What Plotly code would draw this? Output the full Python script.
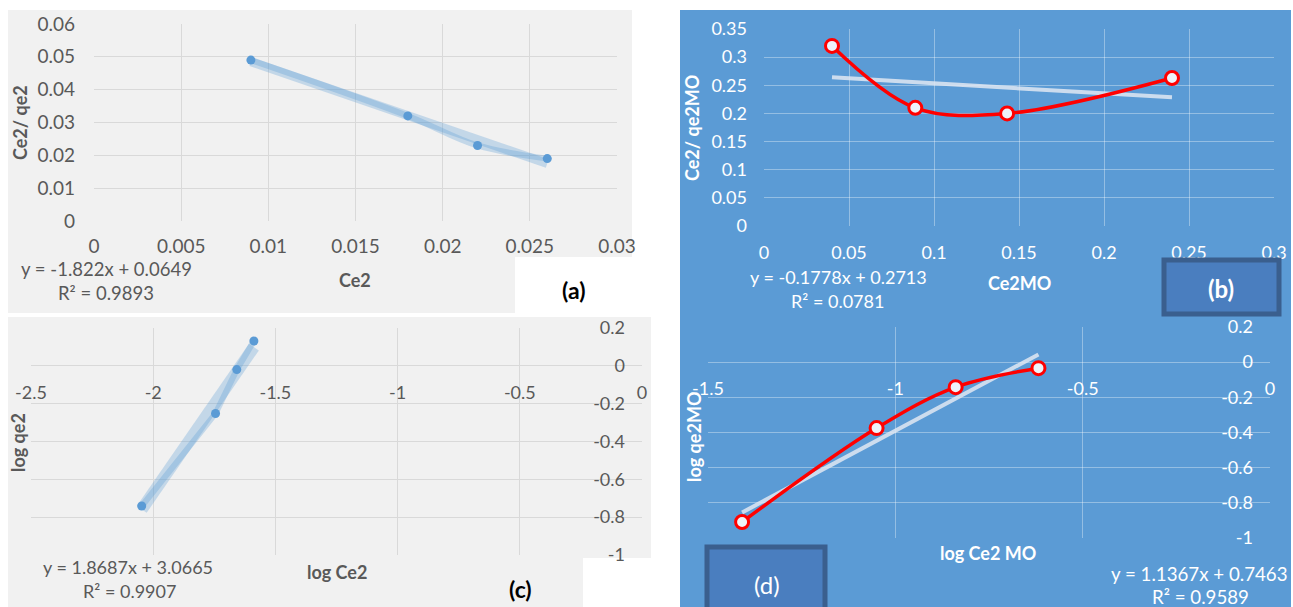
import plotly.graph_objects as go

W, H = 1293, 607

# ---------------- data ----------------
ce2 = [0.009, 0.018, 0.022, 0.026]
ce2_qe2 = [0.049, 0.032, 0.023, 0.019]

ce2mo = [0.040, 0.089, 0.143, 0.240]
ce2_qe2mo = [0.320, 0.210, 0.200, 0.263]

log_ce2 = [-2.047, -1.745, -1.658, -1.588]
log_qe2 = [-0.741, -0.252, -0.020, 0.131]

log_ce2mo = [-1.409, -1.050, -0.839, -0.618]
log_qe2mo = [-0.909, -0.375, -0.142, -0.034]

trend_a = dict(x=[0.009, 0.026], y=[0.0485, 0.0175])
trend_b = dict(x=[0.040, 0.240], y=[0.2642, 0.2286])
trend_c = dict(x=[-2.047, -1.588], y=[-0.759, 0.099])
trend_d = dict(x=[-1.409, -0.618], y=[-0.855, 0.044])

eq_a = ["y = -1.822x + 0.0649", "R² = 0.9893"]
eq_b = ["y = -0.1778x + 0.2713", "R² = 0.0781"]
eq_c = ["y = 1.8687x + 3.0665", "R² = 0.9907"]
eq_d = ["y = 1.1367x + 0.7463", "R² = 0.9589"]

# tick labels (Excel style, plain hyphen minus)
xt_a = [0, 0.005, 0.01, 0.015, 0.02, 0.025, 0.03]
yt_a = [0, 0.01, 0.02, 0.03, 0.04, 0.05, 0.06]
xt_b = [0, 0.05, 0.1, 0.15, 0.2, 0.25, 0.3]
yt_b = [0, 0.05, 0.1, 0.15, 0.2, 0.25, 0.3, 0.35]
xt_c = [-2.5, -2, -1.5, -1, -0.5, 0]
xl_c = ["-2.5", "-2", "-1.5", "-1", "-0.5", "0"]
xt_d = [-1.5, -1, -0.5, 0]
xl_d = ["-1.5", "-1", "-0.5", "0"]
yt_cd = [-1, -0.8, -0.6, -0.4, -0.2, 0, 0.2]
yl_cd = ["-1", "-0.8", "-0.6", "-0.4", "-0.2", "0", "0.2"]

FONT = "Lato"
GRAY = "#595959"
BLUE_BG = "#5b9bd5"
PANEL = "#f1f1f1"
GRID_L = "#d9d9d9"
GRID_B = "rgba(255,255,255,0.35)"
MARK = "#5b9bd5"
BAND = "rgba(91,155,213,0.30)"
RED = "#ff0000"
TREND_B = "rgba(225,232,242,0.85)"


def px(x):
    return x / W


def py(y):
    return 1 - y / H


fig = go.Figure()

# ---- panel (a)
fig.add_trace(go.Scatter(x=ce2, y=ce2_qe2, mode="lines", line=dict(color=BAND, width=6, shape="spline"),
                         xaxis="x", yaxis="y", hoverinfo="skip"))
fig.add_trace(go.Scatter(x=trend_a["x"], y=trend_a["y"], mode="lines", line=dict(color=BAND, width=9),
                         xaxis="x", yaxis="y", hoverinfo="skip"))
fig.add_trace(go.Scatter(x=ce2, y=ce2_qe2, mode="markers", marker=dict(color=MARK, size=9),
                         xaxis="x", yaxis="y"))

# ---- panel (b)
fig.add_trace(go.Scatter(x=trend_b["x"], y=trend_b["y"], mode="lines", line=dict(color=TREND_B, width=4),
                         xaxis="x2", yaxis="y2", hoverinfo="skip"))
fig.add_trace(go.Scatter(x=ce2mo, y=ce2_qe2mo, mode="lines+markers",
                         line=dict(color=RED, width=3.5, shape="spline", smoothing=1.0),
                         marker=dict(symbol="circle", size=13, color="#eef3fa", line=dict(color=RED, width=3)),
                         xaxis="x2", yaxis="y2"))

# ---- panel (c)
fig.add_trace(go.Scatter(x=log_ce2, y=log_qe2, mode="lines", line=dict(color=BAND, width=6),
                         xaxis="x3", yaxis="y3", hoverinfo="skip"))
fig.add_trace(go.Scatter(x=trend_c["x"], y=trend_c["y"], mode="lines", line=dict(color=BAND, width=12),
                         xaxis="x3", yaxis="y3", hoverinfo="skip"))
fig.add_trace(go.Scatter(x=log_ce2, y=log_qe2, mode="markers", marker=dict(color=MARK, size=9),
                         xaxis="x3", yaxis="y3"))

# ---- panel (d)
fig.add_trace(go.Scatter(x=trend_d["x"], y=trend_d["y"], mode="lines", line=dict(color=TREND_B, width=4),
                         xaxis="x4", yaxis="y4", hoverinfo="skip"))
fig.add_trace(go.Scatter(x=log_ce2mo, y=log_qe2mo, mode="lines+markers",
                         line=dict(color=RED, width=3.5, shape="spline", smoothing=1.0),
                         marker=dict(symbol="circle", size=13, color="#eef3fa", line=dict(color=RED, width=3)),
                         xaxis="x4", yaxis="y4"))

# ---------------- axes ----------------
dom = {
    "a": dict(x=[px(94), px(617)], y=[py(221), py(24)]),
    "b": dict(x=[px(764), px(1274)], y=[py(226), py(29)]),
    "c": dict(x=[px(31), px(642)], y=[py(555), py(328)]),
    "d": dict(x=[px(708), px(1270)], y=[py(538), py(327)]),
}


def zero_pos(d, lo, hi):
    y0, y1 = d["y"]
    return y0 + (0 - lo) / (hi - lo) * (y1 - y0)


def tf(color, size):
    return dict(family=FONT, size=size, color=color)


common = dict(showline=False, zeroline=False, ticks="", fixedrange=True, automargin=False,
              ticklabeloverflow="allow")

fig.update_layout(
    xaxis=dict(domain=dom["a"]["x"], anchor="y", range=[0, 0.03], tickvals=xt_a, tickformat="~g",
               gridcolor=GRID_L, tickfont=tf(GRAY, 19), ticklabelstandoff=12, **common),
    yaxis=dict(domain=dom["a"]["y"], anchor="x", range=[0, 0.06], tickvals=yt_a, tickformat="~g",
               gridcolor=GRID_L, tickfont=tf(GRAY, 19), ticklabelstandoff=18, **common),
    xaxis2=dict(domain=dom["b"]["x"], anchor="y2", range=[0, 0.3], tickvals=xt_b, tickformat="~g",
                gridcolor=GRID_B, tickfont=tf("white", 18), ticklabelstandoff=14, **common),
    yaxis2=dict(domain=dom["b"]["y"], anchor="x2", range=[0, 0.35], tickvals=yt_b, tickformat="~g",
                gridcolor=GRID_B, tickfont=tf("white", 18), ticklabelstandoff=16, **common),
    xaxis3=dict(domain=dom["c"]["x"], anchor="free", position=zero_pos(dom["c"], -1, 0.2),
                range=[-2.5, 0], tickvals=xt_c, ticktext=xl_c,
                gridcolor=GRID_L, tickfont=tf(GRAY, 18), ticklabelstandoff=14, **common),
    yaxis3=dict(domain=dom["c"]["y"], anchor="free", position=dom["c"]["x"][1], side="left",
                range=[-1, 0.2], tickvals=yt_cd, ticktext=yl_cd,
                gridcolor=GRID_L, tickfont=tf(GRAY, 18), ticklabelstandoff=17, **common),
    xaxis4=dict(domain=dom["d"]["x"], anchor="free", position=zero_pos(dom["d"], -1, 0.2),
                range=[-1.5, 0], tickvals=xt_d, ticktext=xl_d,
                gridcolor=GRID_B, tickfont=tf("white", 18), ticklabelstandoff=14, **common),
    yaxis4=dict(domain=dom["d"]["y"], anchor="free", position=dom["d"]["x"][1], side="left",
                range=[-1, 0.2], tickvals=yt_cd, ticktext=yl_cd,
                gridcolor=GRID_B, tickfont=tf("white", 18), ticklabelstandoff=17, **common),
)

# ---------------- backgrounds ----------------
shapes = [
    dict(type="rect", xref="paper", yref="paper", x0=px(8), x1=px(632), y0=py(313), y1=py(10),
         fillcolor=PANEL, line=dict(width=0), layer="below"),
    dict(type="rect", xref="paper", yref="paper", x0=px(515), x1=px(632), y0=py(313), y1=py(257),
         fillcolor="white", line=dict(width=0), layer="below"),
    dict(type="rect", xref="paper", yref="paper", x0=px(8), x1=px(651), y0=py(607), y1=py(317),
         fillcolor=PANEL, line=dict(width=0), layer="below"),
    dict(type="rect", xref="paper", yref="paper", x0=px(583), x1=px(651), y0=py(607), y1=py(558),
         fillcolor="white", line=dict(width=0), layer="below"),
    dict(type="rect", xref="paper", yref="paper", x0=px(680), x1=px(1291), y0=py(607), y1=py(10),
         fillcolor=BLUE_BG, line=dict(width=0), layer="below"),
    # label boxes (b), (d)
    dict(type="rect", xref="paper", yref="paper", x0=px(1164), x1=px(1279), y0=py(314), y1=py(260),
         fillcolor="#4a7ebf", line=dict(color="#3a5f8e", width=5), layer="above"),
    dict(type="rect", xref="paper", yref="paper", x0=px(707), x1=px(825), y0=py(612), y1=py(547),
         fillcolor="#4a7ebf", line=dict(color="#3a5f8e", width=5), layer="above"),
]


# ---------------- annotations ----------------
def ann(text, x, y, size=17, color=GRAY, bold=False, angle=0):
    t = f"<b>{text}</b>" if bold else text
    return dict(text=t, x=px(x), y=py(y), xref="paper", yref="paper", showarrow=False,
                xanchor="center", yanchor="middle", textangle=angle,
                font=dict(family=FONT, size=size, color=color))


annotations = [
    # (a)
    ann("Ce2/ qe2", 20, 123, 18, GRAY, True, -90),
    ann("Ce2", 355, 280, 18, GRAY, True),
    ann(eq_a[0], 106, 269, 18.5, GRAY),
    ann(eq_a[1], 106, 293, 18.5, GRAY),
    ann("(a)", 573, 290, 23, "black", True),
    # (b)
    ann("Ce2/ qe2MO", 692, 128, 18, "white", True, -90),
    ann("Ce2MO", 1019, 283, 18, "white", True),
    ann(eq_b[0], 838, 277, 18, "white"),
    ann(eq_b[1], 837, 301, 18, "white"),
    ann("(b)", 1221, 288, 24, "white", True),
    # (c)
    ann("log qe2", 18, 443, 18, GRAY, True, -90),
    ann("log Ce2", 337, 572, 18, GRAY, True),
    ann(eq_c[0], 128, 567, 18, GRAY),
    ann(eq_c[1], 129, 591, 18, GRAY),
    ann("(c)", 520, 589, 23, "black", True),
    # (d)
    ann("log qe2MO", 694, 437, 18, "white", True, -90),
    ann("log Ce2 MO", 988, 553, 18, "white", True),
    ann(eq_d[0], 1199, 574, 18.7, "white"),
    ann(eq_d[1], 1200, 597, 18.7, "white"),
    ann("(d)", 767, 584, 24, "white"),
]

fig.update_layout(
    width=W, height=H, margin=dict(l=0, r=0, t=0, b=0),
    paper_bgcolor="white", plot_bgcolor="rgba(0,0,0,0)",
    showlegend=False, shapes=shapes, annotations=annotations,
    font=dict(family=FONT),
)

fig.write_html("out.html")
